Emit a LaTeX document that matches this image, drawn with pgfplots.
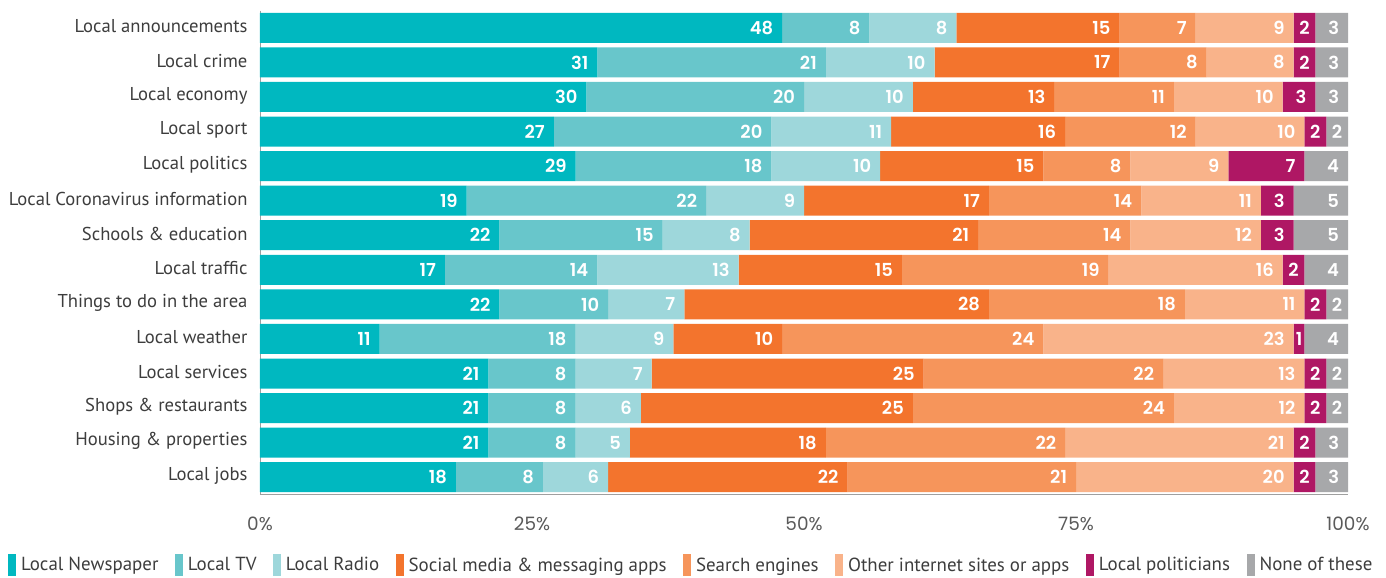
\documentclass[border=0pt]{standalone}
\usepackage{pgfplots}
\pgfplotsset{compat=1.18}
\usepackage{pgfplotstable}
\usepackage{fontspec}
\setmainfont{PT Sans}
\newfontfamily\numfont{Poppins}
\newfontfamily\numsemi{Poppins SemiBold}

\definecolor{cNews}{HTML}{00B8C0}
\definecolor{cTV}{HTML}{68C6CB}
\definecolor{cRadio}{HTML}{9ED7DB}
\definecolor{cSocial}{HTML}{F3742D}
\definecolor{cSearch}{HTML}{F6955B}
\definecolor{cOther}{HTML}{F9B38A}
\definecolor{cPol}{HTML}{AF1764}
\definecolor{cNone}{HTML}{A7A8AA}
\definecolor{txt}{HTML}{3D3D3D}

% share of each source, per topic (rows top to bottom)
\pgfplotstableread{
idx news tv radio social search other pol none
0   48   8  8     15     7      9     2   3
1   31   21 10    17     8      8     2   3
2   30   20 10    13     11     10    3   3
3   27   20 11    16     12     10    2   2
4   29   18 10    15     8      9     7   4
5   19   22 9     17     14     11    3   5
6   22   15 8     21     14     12    3   5
7   17   14 13    15     19     16    2   4
8   22   10 7     28     18     11    2   2
9   11   18 9     10     24     23    1   4
10  21   8  7     25     22     13    2   2
11  21   8  6     25     24     12    2   2
12  21   8  5     18     22     21    2   3
13  18   8  6     22     21     20    2   3
}\data

\begin{document}
\begin{tikzpicture}
\begin{axis}[
    name=ax,
    xbar stacked,
    scale only axis,
    width=1088bp, height=484bp,
    bar width=30bp,
    xmin=0, xmax=100,
    ymin=-0.5, ymax=13.5,
    y dir=reverse,
    enlargelimits=false,
    axis x line*=bottom, axis y line*=left,
    axis line style={draw=gray!75, -},
    major tick length=0pt,
    xtick={0,25,50,75,100},
    xticklabels={0\%,25\%,50\%,75\%,100\%},
    x tick label style={font=\numfont\fontsize{18.5}{18.5}\selectfont, text=txt!85, anchor=center, yshift=-29.5bp},
    ytick={0,...,13},
    yticklabels={Local announcements, Local crime, Local economy, Local sport, Local politics,
        Local Coronavirus information, Schools \& education, Local traffic, Things to do in the area,
        Local weather, Local services, Shops \& restaurants, Housing \& properties, Local jobs},
    y tick label style={font=\fontsize{18.7}{18.7}\selectfont, text=txt, xshift=-9bp, yshift=1.5bp},
    point meta=explicit symbolic,
    % label sits at the segment centre: right-align it in a box as wide as the segment
    nodes near coords={\pgfmathsetmacro\w{\pgfplotspointmeta*10.88}%
        \ifdim\w bp>30bp \makebox[0pt][c]{\makebox[\w bp][r]{\pgfplotspointmeta\hspace{9bp}}}%
        \else\makebox[0pt][c]{\pgfplotspointmeta}\fi},
    every node near coord/.append style={font=\numsemi\fontsize{18}{18}\selectfont, text=white, inner sep=0pt},
    legend image code/.code={\fill[#1] (0bp,-11bp) rectangle (8bp,11bp);},
    legend columns=8,
    legend style={draw=none, fill=none, font=\fontsize{19}{19}\selectfont, text=txt,
        at={(axis description cs:0,0)}, anchor=west, xshift=-255bp, yshift=-70.5bp,
        /tikz/every odd column/.append style={column sep=3bp},
        /tikz/every even column/.append style={column sep=14.5bp}},
]
\addplot[fill=cNews, draw=none] table[x=news, y=idx, meta=news] {\data};
\addplot[fill=cTV, draw=none] table[x=tv, y=idx, meta=tv] {\data};
\addplot[fill=cRadio, draw=none] table[x=radio, y=idx, meta=radio] {\data};
\addplot[fill=cSocial, draw=none] table[x=social, y=idx, meta=social] {\data};
\addplot[fill=cSearch, draw=none] table[x=search, y=idx, meta=search] {\data};
\addplot[fill=cOther, draw=none] table[x=other, y=idx, meta=other] {\data};
\addplot[fill=cPol, draw=none] table[x=pol, y=idx, meta=pol] {\data};
\addplot[fill=cNone, draw=none] table[x=none, y=idx, meta=none] {\data};
\legend{Local Newspaper, Local TV, Local Radio, Social media \& messaging apps, Search engines,
    Other internet sites or apps, Local politicians, None of these}
\end{axis}
\pgfresetboundingbox
\path ([shift={(-260bp,-82.5bp)}]ax.south west) rectangle ([shift={(38bp,10.5bp)}]ax.north east);
\end{tikzpicture}
\end{document}
